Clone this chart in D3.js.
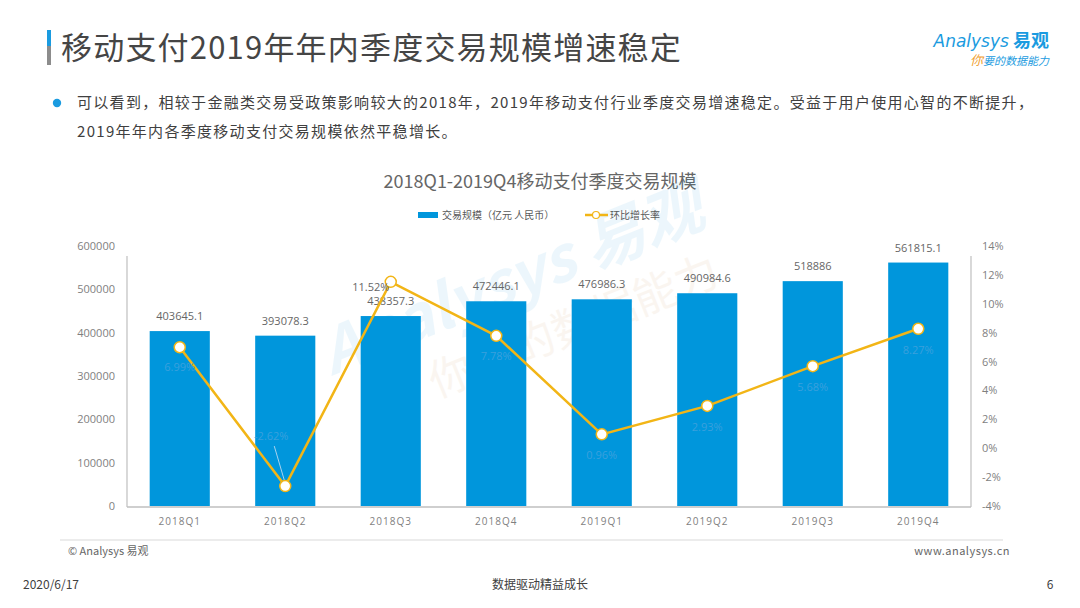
<!DOCTYPE html>
<html>
<head>
<meta charset="utf-8">
<script src="https://cdn.jsdelivr.net/npm/d3@7"></script>
<style>
  html, body { margin: 0; padding: 0; background: #fff; }
  svg { display: block; font-family: "Noto Sans CJK SC", "Noto Sans", sans-serif; }
</style>
</head>
<body>
<div id="chart"></div>
<script>
const quarters = ['2018Q1', '2018Q2', '2018Q3', '2018Q4', '2019Q1', '2019Q2', '2019Q3', '2019Q4'];
const volume = [403645.1, 393078.3, 438357.3, 472446.1, 476986.3, 490984.6, 518886, 561815.1];
const growth = [6.99, -2.62, 11.52, 7.78, 0.96, 2.93, 5.68, 8.27];
const growthLabels = ['6.99%', '-2.62%', '11.52%', '7.78%', '0.96%', '2.93%', '5.68%', '8.27%'];
const leftTicks = [0, 100000, 200000, 300000, 400000, 500000, 600000];
const rightTicks = [-4, -2, 0, 2, 4, 6, 8, 10, 12, 14];

const W = 1080, H = 608;
const blue = '#0096dc';
const gold = '#f2b516';

const svg = d3.select('#chart').append('svg')
  .attr('width', W)
  .attr('height', H);

// header
svg.append('rect').attr('x', 47).attr('y', 30).attr('width', 4).attr('height', 16).attr('fill', '#1a9be0');
svg.append('rect').attr('x', 47).attr('y', 46).attr('width', 4).attr('height', 19).attr('fill', '#8c8c8c');
svg.append('text')
  .attr('x', 61).attr('y', 59)
  .attr('font-size', 31).attr('font-weight', 400).attr('fill', '#454545')
  .attr('letter-spacing', 1.2)
  .text('移动支付2019年年内季度交易规模增速稳定');

// logo
const logo = svg.append('g').attr('transform', 'translate(1049,0)');
logo.append('text')
  .attr('x', 0).attr('y', 47).attr('text-anchor', 'end')
  .attr('font-size', 18).attr('font-weight', 700).attr('fill', '#1a9be0')
  .html('<tspan font-style="italic" font-weight="400" font-family="DejaVu Sans" font-size="17">Analysys</tspan> 易观');
logo.append('text')
  .attr('x', 0).attr('y', 65).attr('text-anchor', 'end')
  .attr('font-size', 11).attr('font-style', 'italic').attr('fill', '#1a9be0')
  .html('<tspan fill="#f0a030" font-size="13">你</tspan>要的数据能力');

// bullet text
svg.append('circle').attr('cx', 57).attr('cy', 103).attr('r', 4.2).attr('fill', '#1a9be0');
const para = svg.append('g').attr('font-size', 15).attr('fill', '#404040').attr('letter-spacing', 1.3);
para.append('text').attr('x', 77).attr('y', 108)
  .text('可以看到，相较于金融类交易受政策影响较大的2018年，2019年移动支付行业季度交易增速稳定。受益于用户使用心智的不断提升，');
para.append('text').attr('x', 77).attr('y', 137)
  .text('2019年年内各季度移动支付交易规模依然平稳增长。');

// chart title
svg.append('text')
  .attr('x', 540).attr('y', 188).attr('text-anchor', 'middle')
  .attr('font-size', 18).attr('fill', '#666')
  .text('2018Q1-2019Q4移动支付季度交易规模');

// watermark
const wm = svg.append('g')
  .attr('transform', 'translate(520,300) rotate(-22)')
  .attr('opacity', 0.08);
wm.append('text').attr('x', 0).attr('y', 0).attr('text-anchor', 'middle')
  .attr('font-size', 62).attr('font-weight', 700).attr('font-style', 'italic').attr('fill', '#1a9be0')
  .text('Analysys 易观');
wm.append('text').attr('x', 40).attr('y', 60).attr('text-anchor', 'middle')
  .attr('font-size', 44).attr('fill', '#c89050')
  .text('你要的数据能力');

// plot area
const plotLeft = 127, plotRight = 971, plotTop = 246, plotBottom = 506;

const x = d3.scaleBand().domain(quarters).range([plotLeft, plotRight]).paddingInner(0.43).paddingOuter(0.215);
const y = d3.scaleLinear().domain([0, 600000]).range([plotBottom, plotTop]);
const y2 = d3.scaleLinear().domain([-4, 14]).range([plotBottom, plotTop]);

// axes lines
svg.append('line').attr('x1', plotLeft).attr('x2', plotLeft).attr('y1', plotTop + 10).attr('y2', plotBottom + 1)
  .attr('stroke', '#bfbfbf').attr('stroke-width', 1.2);
svg.append('line').attr('x1', plotRight).attr('x2', plotRight).attr('y1', plotTop + 10).attr('y2', plotBottom + 1)
  .attr('stroke', '#bfbfbf').attr('stroke-width', 1.2);

const axisLeft = svg.append('g')
  .attr('transform', `translate(${plotLeft},0)`)
  .call(d3.axisLeft(y).tickValues(leftTicks).tickSize(0).tickPadding(12).tickFormat(d3.format('d')));
axisLeft.select('.domain').remove();
axisLeft.selectAll('text').attr('font-size', 11).attr('fill', '#7f7f7f').attr('font-family', '"Open Sans", sans-serif');

const axisRight = svg.append('g')
  .attr('transform', `translate(${plotRight},0)`)
  .call(d3.axisRight(y2).tickValues(rightTicks).tickSize(0).tickPadding(11).tickFormat(d => d + '%'));
axisRight.select('.domain').remove();
axisRight.selectAll('text').attr('font-size', 11).attr('fill', '#7f7f7f').attr('font-family', '"Open Sans", sans-serif');

// bars
svg.append('g').selectAll('rect')
  .data(volume)
  .join('rect')
  .attr('x', (d, i) => x(quarters[i]))
  .attr('y', d => y(d))
  .attr('width', x.bandwidth())
  .attr('height', d => y(0) - y(d))
  .attr('fill', blue);

svg.append('g').selectAll('text')
  .data(volume)
  .join('text')
  .attr('x', (d, i) => x(quarters[i]) + x.bandwidth() / 2)
  .attr('y', d => y(d) - 11)
  .attr('text-anchor', 'middle')
  .attr('font-size', 11).attr('fill', '#666').attr('font-family', '"Open Sans", sans-serif')
  .text(d => d);

// bottom axis
svg.append('line').attr('x1', plotLeft).attr('x2', plotRight).attr('y1', plotBottom + 1).attr('y2', plotBottom + 1)
  .attr('stroke', '#bfbfbf').attr('stroke-width', 1.5);
const axisBottom = svg.append('g')
  .attr('transform', `translate(0,${plotBottom + 1})`)
  .call(d3.axisBottom(x).tickSize(0).tickPadding(11));
axisBottom.select('.domain').remove();
axisBottom.selectAll('text').attr('font-size', 10).attr('fill', '#7f7f7f')
  .attr('letter-spacing', 1).attr('font-family', '"Open Sans", sans-serif');

// line
const cx = i => x(quarters[i]) + x.bandwidth() / 2;
const line = d3.line().x((d, i) => cx(i)).y(d => y2(d));
svg.append('path')
  .datum(growth)
  .attr('d', line)
  .attr('fill', 'none')
  .attr('stroke', gold)
  .attr('stroke-width', 2.5);

// leader for the -2.62% label
svg.append('line')
  .attr('x1', cx(1) - 11).attr('y1', y2(growth[1]) - 40)
  .attr('x2', cx(1) - 1).attr('y2', y2(growth[1]) - 6)
  .attr('stroke', '#a8d2ee').attr('stroke-width', 1);

svg.append('g').selectAll('circle')
  .data(growth)
  .join('circle')
  .attr('cx', (d, i) => cx(i))
  .attr('cy', d => y2(d))
  .attr('r', 5.5)
  .attr('fill', '#fff')
  .attr('stroke', gold)
  .attr('stroke-width', 1.5);

// growth labels (faint, mostly on top of bars)
const labelOffset = [[0, 24], [-14, -46], [-20, 9], [0, 24], [0, 25], [0, 25], [0, 25], [0, 25]];
svg.append('g').selectAll('text')
  .data(growth)
  .join('text')
  .attr('x', (d, i) => cx(i) + labelOffset[i][0])
  .attr('y', (d, i) => y2(d) + labelOffset[i][1])
  .attr('text-anchor', 'middle')
  .attr('font-size', 11)
  .attr('font-family', '"Open Sans", sans-serif')
  .attr('fill', (d, i) => i === 2 ? '#666' : '#3aa0dc')
  .text((d, i) => growthLabels[i]);

// legend
const legend = svg.append('g').attr('font-size', 10).attr('fill', '#595959');
legend.append('rect').attr('x', 418).attr('y', 212).attr('width', 20).attr('height', 6).attr('fill', blue);
legend.append('text').attr('x', 442).attr('y', 219).text('交易规模（亿元 人民币）');
legend.append('line').attr('x1', 585).attr('x2', 608).attr('y1', 215).attr('y2', 215)
  .attr('stroke', gold).attr('stroke-width', 2.5);
legend.append('circle').attr('cx', 596).attr('cy', 215).attr('r', 3.5)
  .attr('fill', '#fff').attr('stroke', gold).attr('stroke-width', 1.2);
legend.append('text').attr('x', 610).attr('y', 219).text('环比增长率');

// footer
svg.append('line').attr('x1', 60).attr('x2', 1003).attr('y1', 540).attr('y2', 540)
  .attr('stroke', '#d9d9d9').attr('stroke-width', 1);
svg.append('text').attr('x', 68).attr('y', 555).attr('font-size', 11).attr('fill', '#666')
  .text('© Analysys 易观');
svg.append('text').attr('x', 1010).attr('y', 555).attr('text-anchor', 'end')
  .attr('font-size', 11).attr('fill', '#666').attr('letter-spacing', 0.5)
  .text('www.analysys.cn');
svg.append('text').attr('x', 23).attr('y', 589).attr('font-size', 12).attr('fill', '#404040')
  .text('2020/6/17');
svg.append('text').attr('x', 540).attr('y', 589).attr('text-anchor', 'middle')
  .attr('font-size', 12).attr('fill', '#404040')
  .text('数据驱动精益成长');
svg.append('text').attr('x', 1050).attr('y', 589).attr('text-anchor', 'middle')
  .attr('font-size', 12).attr('fill', '#404040')
  .text('6');
</script>
</body>
</html>
